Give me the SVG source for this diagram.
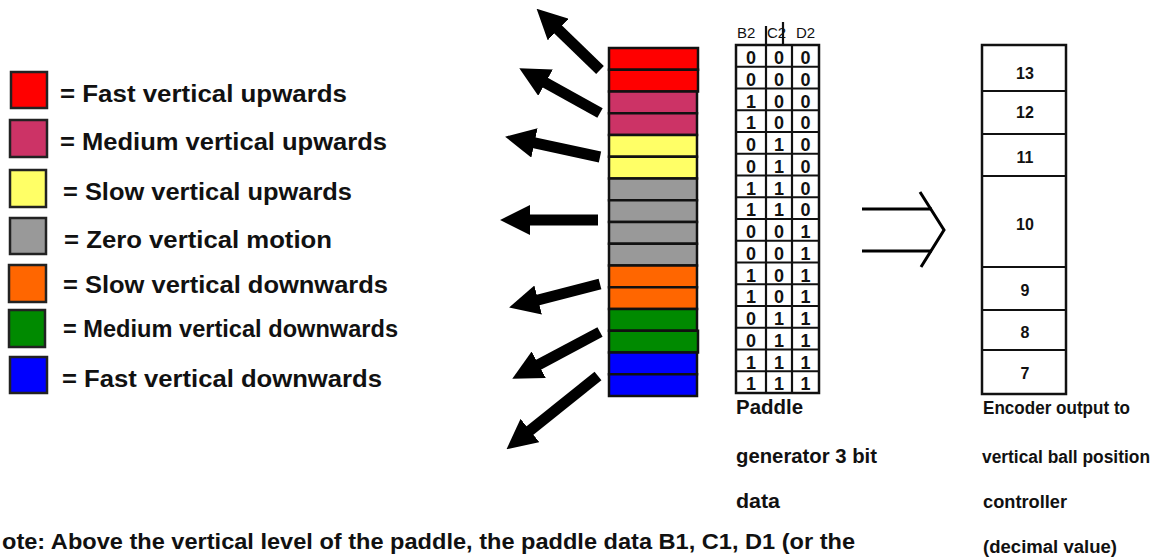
<svg xmlns="http://www.w3.org/2000/svg" width="1165" height="558" viewBox="0 0 1165 558">
<style>
.lg{font-family:"Liberation Sans",Arial,sans-serif;font-weight:bold;font-size:23px;fill:#111}
.sw{stroke:#222;stroke-width:2.5}
.pr{stroke:#111;stroke-width:2.5}
.tb{fill:#fff;stroke:#111;stroke-width:2.5}
.tl{stroke:#111;stroke-width:2.2}
.dg{font-family:"Liberation Sans",Arial,sans-serif;font-weight:bold;font-size:18px;fill:#111;text-anchor:middle}
.hd{font-family:"Liberation Sans",Arial,sans-serif;font-size:15px;fill:#111}
.lb{font-family:"Liberation Sans",Arial,sans-serif;font-weight:bold;font-size:20px;fill:#111}
.lr{font-family:"Liberation Sans",Arial,sans-serif;font-weight:bold;font-size:18px;fill:#111}
.nt{font-family:"Liberation Sans",Arial,sans-serif;font-weight:bold;font-size:22px;fill:#111}
.en{font-family:"Liberation Sans",Arial,sans-serif;font-weight:bold;font-size:16px;fill:#111;text-anchor:middle}
.ar{stroke:#000;stroke-width:11;fill:none}
.dbl{stroke:#000;stroke-width:3;fill:none}
</style>
<defs>
<marker id="ah" markerUnits="userSpaceOnUse" markerWidth="30" markerHeight="30" viewBox="0 0 28 28" refX="1" refY="14" orient="auto">
<path d="M0,0 L28,14 L0,28 z" fill="#000"/>
</marker>
</defs>
<rect width="1165" height="558" fill="#fff"/>

<g id="legend">
<rect x="11" y="72" width="36" height="36" fill="#ff0000" class="sw"/>
<text x="60" y="102" class="lg" textLength="287" lengthAdjust="spacingAndGlyphs">= Fast vertical upwards</text>
<rect x="10" y="120" width="37" height="37" fill="#cc3366" class="sw"/>
<text x="60" y="150" class="lg" textLength="327" lengthAdjust="spacingAndGlyphs">= Medium vertical upwards</text>
<rect x="10" y="170" width="36" height="37" fill="#ffff66" class="sw"/>
<text x="63" y="200" class="lg" textLength="289" lengthAdjust="spacingAndGlyphs">= Slow vertical upwards</text>
<rect x="10" y="218" width="36" height="36" fill="#999999" class="sw"/>
<text x="64" y="248" class="lg" textLength="268" lengthAdjust="spacingAndGlyphs">= Zero vertical motion</text>
<rect x="9" y="265" width="37" height="37" fill="#ff6600" class="sw"/>
<text x="63" y="293" class="lg" textLength="325" lengthAdjust="spacingAndGlyphs">= Slow vertical downwards</text>
<rect x="9" y="310" width="36" height="37" fill="#008a00" class="sw"/>
<text x="63" y="337" class="lg" textLength="335" lengthAdjust="spacingAndGlyphs">= Medium vertical downwards</text>
<rect x="10" y="357" width="37" height="36" fill="#0000ff" class="sw"/>
<text x="62" y="387" class="lg" textLength="320" lengthAdjust="spacingAndGlyphs">= Fast vertical downwards</text>
</g>

<g id="paddle">
<rect x="609" y="48" width="89" height="21.75" fill="#ff0000" class="pr"/>
<rect x="609" y="69.75" width="89" height="21.75" fill="#ff0000" class="pr"/>
<rect x="609" y="91.5" width="88" height="21.75" fill="#cc3366" class="pr"/>
<rect x="609" y="113.25" width="88" height="21.75" fill="#cc3366" class="pr"/>
<rect x="609" y="135" width="88" height="21.75" fill="#ffff66" class="pr"/>
<rect x="609" y="156.75" width="88" height="21.75" fill="#ffff66" class="pr"/>
<rect x="609" y="178.5" width="88" height="21.75" fill="#999999" class="pr"/>
<rect x="609" y="200.25" width="88" height="21.75" fill="#999999" class="pr"/>
<rect x="609" y="222" width="88" height="21.75" fill="#999999" class="pr"/>
<rect x="609" y="243.75" width="88" height="21.75" fill="#999999" class="pr"/>
<rect x="609" y="265.5" width="88" height="21.75" fill="#ff6600" class="pr"/>
<rect x="609" y="287.25" width="88" height="21.75" fill="#ff6600" class="pr"/>
<rect x="609" y="309" width="88" height="21.75" fill="#008a00" class="pr"/>
<rect x="609" y="330.75" width="89" height="21.75" fill="#008a00" class="pr"/>
<rect x="609" y="352.5" width="88" height="21.75" fill="#0000ff" class="pr"/>
<rect x="609" y="374.25" width="88" height="21.75" fill="#0000ff" class="pr"/>
</g>

<g id="table">
<text x="737" y="38" class="hd">B2</text>
<text x="767" y="38" class="hd">C2</text>
<text x="796" y="38" class="hd">D2</text>
<line x1="766" y1="26" x2="766" y2="45" class="tl"/>
<line x1="783" y1="22" x2="783" y2="45" class="tl"/>
<rect x="736" y="45" width="83" height="348" class="tb"/>
<line x1="766" y1="45" x2="766" y2="393" class="tl"/>
<line x1="792" y1="45" x2="792" y2="393" class="tl"/>
<g class="tl">
<line x1="736" y1="66.75" x2="819" y2="66.75"/>
<line x1="736" y1="88.5" x2="819" y2="88.5"/>
<line x1="736" y1="110.25" x2="819" y2="110.25"/>
<line x1="736" y1="132" x2="819" y2="132"/>
<line x1="736" y1="153.75" x2="819" y2="153.75"/>
<line x1="736" y1="175.5" x2="819" y2="175.5"/>
<line x1="736" y1="197.25" x2="819" y2="197.25"/>
<line x1="736" y1="219" x2="819" y2="219"/>
<line x1="736" y1="240.75" x2="819" y2="240.75"/>
<line x1="736" y1="262.5" x2="819" y2="262.5"/>
<line x1="736" y1="284.25" x2="819" y2="284.25"/>
<line x1="736" y1="306" x2="819" y2="306"/>
<line x1="736" y1="327.75" x2="819" y2="327.75"/>
<line x1="736" y1="349.5" x2="819" y2="349.5"/>
<line x1="736" y1="371.25" x2="819" y2="371.25"/>
</g>
<g class="dg">
<text x="751" y="64">0</text><text x="779" y="64">0</text><text x="805.5" y="64">0</text>
<text x="751" y="85.75">0</text><text x="779" y="85.75">0</text><text x="805.5" y="85.75">0</text>
<text x="751" y="107.5">1</text><text x="779" y="107.5">0</text><text x="805.5" y="107.5">0</text>
<text x="751" y="129.25">1</text><text x="779" y="129.25">0</text><text x="805.5" y="129.25">0</text>
<text x="751" y="151">0</text><text x="779" y="151">1</text><text x="805.5" y="151">0</text>
<text x="751" y="172.75">0</text><text x="779" y="172.75">1</text><text x="805.5" y="172.75">0</text>
<text x="751" y="194.5">1</text><text x="779" y="194.5">1</text><text x="805.5" y="194.5">0</text>
<text x="751" y="216.25">1</text><text x="779" y="216.25">1</text><text x="805.5" y="216.25">0</text>
<text x="751" y="238">0</text><text x="779" y="238">0</text><text x="805.5" y="238">1</text>
<text x="751" y="259.75">0</text><text x="779" y="259.75">0</text><text x="805.5" y="259.75">1</text>
<text x="751" y="281.5">1</text><text x="779" y="281.5">0</text><text x="805.5" y="281.5">1</text>
<text x="751" y="303.25">1</text><text x="779" y="303.25">0</text><text x="805.5" y="303.25">1</text>
<text x="751" y="325">0</text><text x="779" y="325">1</text><text x="805.5" y="325">1</text>
<text x="751" y="346.75">0</text><text x="779" y="346.75">1</text><text x="805.5" y="346.75">1</text>
<text x="751" y="368.5">1</text><text x="779" y="368.5">1</text><text x="805.5" y="368.5">1</text>
<text x="751" y="390.25">1</text><text x="779" y="390.25">1</text><text x="805.5" y="390.25">1</text>
</g>
<text x="736" y="414" class="lb" textLength="67" lengthAdjust="spacingAndGlyphs">Paddle</text>
<text x="736" y="463" class="lb" textLength="141" lengthAdjust="spacingAndGlyphs">generator 3 bit</text>
<text x="736" y="508" class="lb" textLength="44" lengthAdjust="spacingAndGlyphs">data</text>
</g>

<g id="encoder">
<rect x="982" y="45" width="84" height="349" class="tb"/>
<g class="tl">
<line x1="982" y1="91" x2="1066" y2="91"/>
<line x1="982" y1="134" x2="1066" y2="134"/>
<line x1="982" y1="176" x2="1066" y2="176"/>
<line x1="982" y1="267" x2="1066" y2="267"/>
<line x1="982" y1="310" x2="1066" y2="310"/>
<line x1="982" y1="350" x2="1066" y2="350"/>
</g>
<g class="en">
<text x="1025" y="79">13</text>
<text x="1025" y="118">12</text>
<text x="1025" y="163">11</text>
<text x="1025" y="230">10</text>
<text x="1025" y="296">9</text>
<text x="1025" y="338">8</text>
<text x="1025" y="379">7</text>
</g>
<text x="983" y="414" class="lr" textLength="147" lengthAdjust="spacingAndGlyphs">Encoder output to</text>
<text x="982" y="463" class="lr" textLength="168" lengthAdjust="spacingAndGlyphs">vertical ball position</text>
<text x="983" y="508" class="lr" textLength="84" lengthAdjust="spacingAndGlyphs">controller</text>
<text x="983" y="553" class="lr" textLength="134" lengthAdjust="spacingAndGlyphs">(decimal value)</text>
</g>

<g id="connectors">
<line x1="600" y1="70" x2="557.4" y2="28.8" class="ar" marker-end="url(#ah)"/>
<line x1="600" y1="113" x2="544.6" y2="82.2" class="ar" marker-end="url(#ah)"/>
<line x1="600" y1="157" x2="533.4" y2="142.7" class="ar" marker-end="url(#ah)"/>
<line x1="598" y1="220" x2="529" y2="220" class="ar" marker-end="url(#ah)"/>
<line x1="600" y1="284" x2="537.1" y2="300.3" class="ar" marker-end="url(#ah)"/>
<line x1="600" y1="332" x2="537.8" y2="365.2" class="ar" marker-end="url(#ah)"/>
<line x1="598" y1="376" x2="529.1" y2="431.2" class="ar" marker-end="url(#ah)"/>
<line x1="862" y1="209" x2="932" y2="209" class="dbl"/>
<line x1="862" y1="251" x2="932" y2="251" class="dbl"/>
<polyline points="920,192 944,230 921,267" class="dbl"/>
</g>

<text x="2" y="549" class="nt" textLength="853" lengthAdjust="spacingAndGlyphs">ote: Above the vertical level of the paddle, the paddle data B1, C1, D1 (or the</text>
</svg>
